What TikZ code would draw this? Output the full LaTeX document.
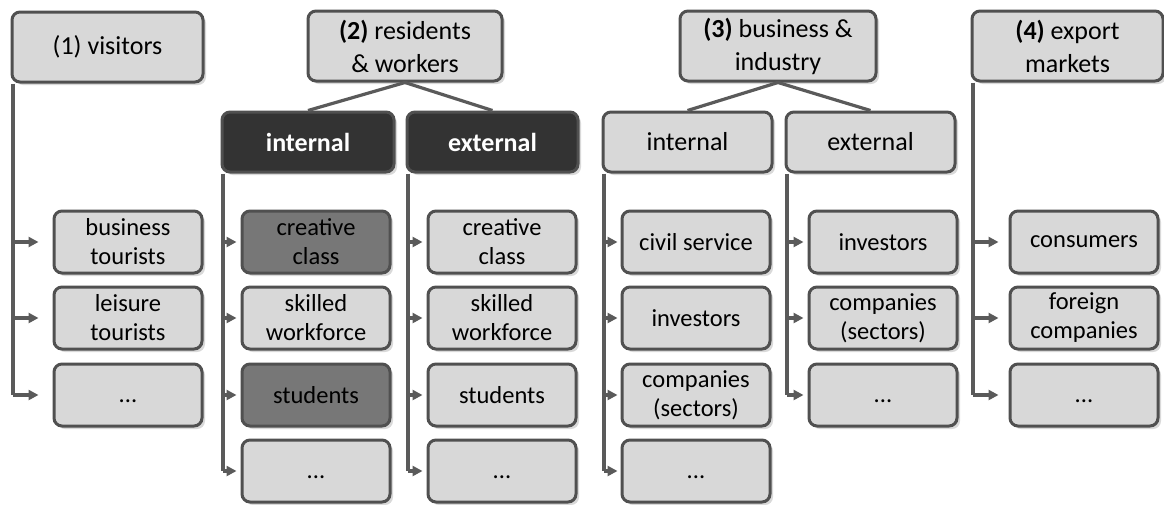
\documentclass[tikz,border=0pt]{standalone}
\usepackage{fontspec}
\setmainfont{Carlito}
\usetikzlibrary{arrows.meta,shadows}
\definecolor{lightbox}{HTML}{D8D8D8}
\definecolor{midbox}{HTML}{777777}
\definecolor{darkbox}{HTML}{333333}
\definecolor{edge}{HTML}{505050}
\definecolor{linecol}{HTML}{5A5A5A}
\newcommand{\ellip}{\rule{0pt}{16pt}...}
\begin{document}
\begin{tikzpicture}[x=1pt,y=-1pt,
  box/.style={draw=edge, line width=3pt, rounded corners=8pt, fill=lightbox, align=center, inner sep=0pt,
    drop shadow={shadow xshift=3pt,shadow yshift=-3pt,opacity=0.3}},
  hdr/.style={box, minimum height=70pt, font=\fontsize{26}{33}\selectfont},
  subhdr/.style={box, minimum height=60pt, font=\fontsize{26}{33}\selectfont},
  darksub/.style={subhdr, fill=darkbox, text=white, font=\fontsize{26}{33}\selectfont\bfseries},
  leaf/.style={box, minimum width=148pt, minimum height=62pt, font=\fontsize{24.5}{29}\selectfont},
  midleaf/.style={leaf, fill=midbox},
  conn/.style={draw=linecol, line width=3.2pt},
  arr/.style={conn, -{Triangle[length=10pt,width=10pt]}}
]
\useasboundingbox (0,0) rectangle (1164,504);

% headers
\node[hdr, minimum width=191pt] (h1) at (107.5,47) {(1) visitors};
\node[hdr, minimum width=194pt] (h2) at (405,46) {{\bfseries(2)} residents\\\& workers};
\node[hdr, minimum width=196pt] (h3) at (778,46) {{\bfseries(3)} business \&\\industry};
\node[hdr, minimum width=191pt] (h4) at (1067.5,46) {{\bfseries(4)} export\\markets};

% sub headers
\node[darksub, minimum width=172pt] (i2) at (308,142) {internal};
\node[darksub, minimum width=171pt] (e2) at (492.5,142) {external};
\node[subhdr, minimum width=169pt] (i3) at (687.5,142) {internal};
\node[subhdr, minimum width=169pt] (e3) at (870.5,142) {external};

% column 1
\node[leaf] (a1) at (128,242) {business\\tourists};
\node[leaf] (a2) at (128,318) {leisure\\tourists};
\node[leaf] (a3) at (128,395) {\ellip};
% column 2
\node[midleaf] (b1) at (316,242) {creative\\class};
\node[leaf] (b2) at (316,318) {skilled\\workforce};
\node[midleaf] (b3) at (316,395) {students};
\node[leaf] (b4) at (316,471) {\ellip};
% column 3
\node[leaf] (c1) at (502,242) {creative\\class};
\node[leaf] (c2) at (502,318) {skilled\\workforce};
\node[leaf] (c3) at (502,395) {students};
\node[leaf] (c4) at (502,471) {\ellip};
% column 4
\node[leaf] (d1) at (696,242) {civil service};
\node[leaf] (d2) at (696,318) {investors};
\node[leaf] (d3) at (696,395) {companies\\(sectors)};
\node[leaf] (d4) at (696,471) {\ellip};
% column 5
\node[leaf] (f1) at (883,242) {investors};
\node[leaf] (f2) at (883,318) {companies\\(sectors)};
\node[leaf] (f3) at (883,395) {\ellip};
% column 6
\node[leaf] (g1) at (1084,242) {consumers};
\node[leaf] (g2) at (1084,318) {foreign\\companies};
\node[leaf] (g3) at (1084,395) {\ellip};

% header to sub headers
\draw[conn] (h2.south) -- (i2.north);
\draw[conn] (h2.south) -- (e2.north);
\draw[conn] (h3.south) -- (i3.north);
\draw[conn] (h3.south) -- (e3.north);

% vertical trunks
\coordinate (v1) at ([xshift=2.5pt]h1.south west);
\coordinate (v2) at ([xshift=2.5pt]i2.south west);
\coordinate (v3) at ([xshift=2.5pt]e2.south west);
\coordinate (v4) at ([xshift=2.5pt]i3.south west);
\coordinate (v5) at ([xshift=2.5pt]e3.south west);
\coordinate (v6) at ([xshift=2.5pt]h4.south west);

\draw[conn] (v1) -- (v1 |- a3);
\draw[conn] (v2) -- (v2 |- b4);
\draw[conn] (v3) -- (v3 |- c4);
\draw[conn] (v4) -- (v4 |- d4);
\draw[conn] (v5) -- (v5 |- f3);
\draw[conn] (v6) -- (v6 |- g3);

% arrows
\foreach \n in {a1,a2,a3} \draw[arr, shorten >=14pt] (v1 |- \n) -- (\n.west);
\foreach \n in {b1,b2,b3,b4} \draw[arr, shorten >=4pt] (v2 |- \n) -- (\n.west);
\foreach \n in {c1,c2,c3,c4} \draw[arr, shorten >=4pt] (v3 |- \n) -- (\n.west);
\foreach \n in {d1,d2,d3,d4} \draw[arr, shorten >=3pt] (v4 |- \n) -- (\n.west);
\foreach \n in {f1,f2,f3} \draw[arr, shorten >=4pt] (v5 |- \n) -- (\n.west);
\foreach \n in {g1,g2,g3} \draw[arr, shorten >=10pt] (v6 |- \n) -- (\n.west);
\end{tikzpicture}
\end{document}
